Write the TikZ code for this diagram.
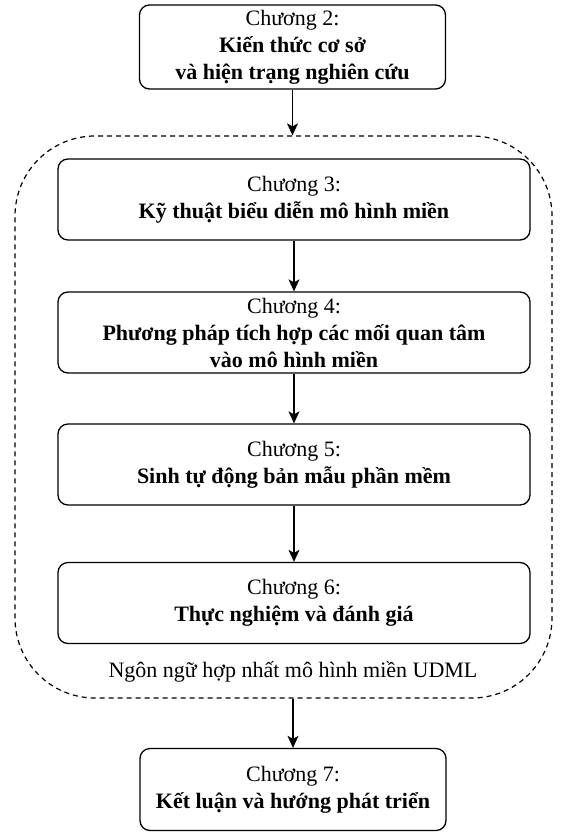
\documentclass[tikz,border=0pt]{standalone}
\usepackage{fontspec}
\setmainfont{Liberation Serif}
\usetikzlibrary{arrows.meta}
\begin{document}
\begin{tikzpicture}[x=1pt,y=-1pt,
  chapbox/.style={draw, line width=1.3pt, rounded corners=10pt, align=center,
    inner sep=0pt, font=\fontsize{22}{27}\selectfont},
  wide/.style={chapbox, minimum width=472pt, minimum height=81pt},
  narrow/.style={chapbox, minimum width=306pt, minimum height=82pt},
  flow/.style={line width=1.3pt, -{Stealth[length=12pt,width=11pt,inset=3pt]}},
  groupbox/.style={draw, line width=1.2pt, dash pattern=on 5pt off 4pt,
    rounded corners=80pt, inner sep=0pt}]
\useasboundingbox (0,0) rectangle (562,833);

\node[narrow, minimum height=84pt] (c2) at (292.5,47)
  {Chương 2:\\\textbf{Kiến thức cơ sở}\\\textbf{và hiện trạng nghiên cứu}};

\node[groupbox, minimum width=537pt, minimum height=562pt] (grp) at (283.5,417) {};

\node[wide] (c3) at (294,199.5) {Chương 3:\\\textbf{Kỹ thuật biểu diễn mô hình miền}};
\node[wide] (c4) at (294,332.5) {Chương 4:\\\textbf{Phương pháp tích hợp các mối quan tâm}\\\textbf{vào mô hình miền}};
\node[wide] (c5) at (294,464.5) {Chương 5:\\\textbf{Sinh tự động bản mẫu phần mềm}};
\node[wide] (c6) at (294,603) {Chương 6:\\\textbf{Thực nghiệm và đánh giá}};

\node[font=\fontsize{22}{27}\selectfont] (lbl) at (293,672) {Ngôn ngữ hợp nhất mô hình miền UDML};

\node[narrow] (c7) at (293,789.5) {Chương 7:\\\textbf{Kết luận và hướng phát triển}};

\draw[flow] (c2.south) -- (c2.south |- grp.north);
\draw[flow] (c3.south) -- (c4.north);
\draw[flow] (c4.south) -- (c5.north);
\draw[flow] (c5.south) -- (c6.north);
\draw[flow] (c7.north |- grp.south) -- (c7.north);
\end{tikzpicture}
\end{document}
